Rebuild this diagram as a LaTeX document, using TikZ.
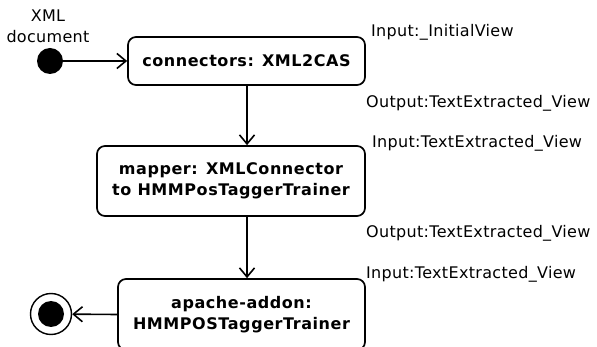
\documentclass[tikz,border=0pt]{standalone}
\usepackage{fontspec}
\usetikzlibrary{arrows.meta}
\setmainfont{DejaVu Sans}
\newfontfamily\lblfont{DejaVu Sans}[LetterSpace=2]
\newfontfamily\bxfont{DejaVu Sans}[LetterSpace=3.5]
\begin{document}
\begin{tikzpicture}[x=1pt,y=-1pt,
  box/.style={draw, line width=1.7pt, rounded corners=8pt, align=center,
    font=\bxfont\bfseries\fontsize{16}{21}\selectfont, inner sep=0pt},
  lbl/.style={anchor=base west, inner sep=0pt, font=\lblfont\fontsize{16}{21}\selectfont},
  conn/.style={line width=1.6pt, -{Straight Barb[length=9pt,width=15pt,line width=1.6pt]}}]
\useasboundingbox (0,0) rectangle (597,347);
\node[box, minimum width=237pt, minimum height=48pt] (b1) at (246.5,61) {connectors: XML2CAS};
\node[box, minimum width=268pt, minimum height=70pt] (b2) at (231,181) {mapper: XMLConnector\\to HMMPosTaggerTrainer};
\node[box, minimum width=247pt, minimum height=71pt] (b3) at (241.5,314.5) {apache-addon:\\HMMPOSTaggerTrainer};
\node[circle, fill, minimum size=26pt, inner sep=0pt] (start) at (50,61) {};
\node[circle, draw, line width=1.4pt, minimum size=41pt, inner sep=0pt,
  path picture={\fill (path picture bounding box.center) circle (13pt);}] (end) at (51,314) {};
\node[anchor=north, inner sep=0pt, align=center, font=\lblfont\fontsize{16}{21}\selectfont] (doc) at (48,9.5) {XML\\document};
\draw[conn] (start) -- (b1.west);
\draw[conn] ([xshift=0.5pt]b1.south) -- ([xshift=0.5pt]b1.south |- b2.north);
\draw[conn] ([xshift=0.5pt]b1.south |- b2.south) -- ([xshift=0.5pt]b1.south |- b3.north);
\draw[conn] (b3.west) -- (end);
\node[lbl] (l1) at (371,37) {Input:\_InitialView};
\node[lbl] (l2) at (366,108) {Output:TextExtracted\_View};
\node[lbl] (l3) at (372,148) {Input:TextExtracted\_View};
\node[lbl] (l4) at (366,238) {Output:TextExtracted\_View};
\node[lbl] (l5) at (366,279) {Input:TextExtracted\_View};
\end{tikzpicture}
\end{document}
